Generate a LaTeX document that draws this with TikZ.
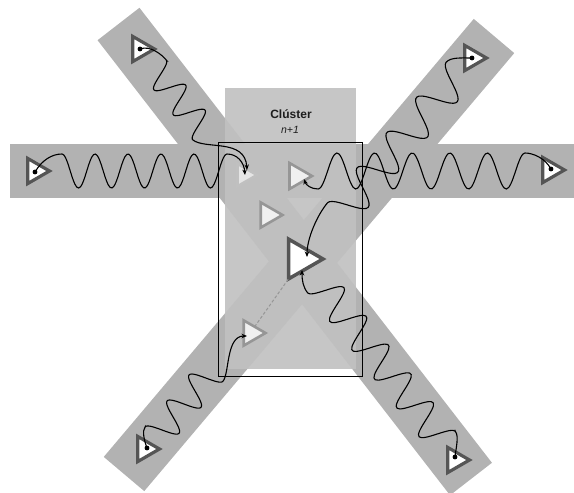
\documentclass[tikz,border=0pt]{standalone}
\usepackage{fontspec}
\newfontfamily\arialf{Liberation Sans}
\usetikzlibrary{shapes.geometric,arrows.meta}
\definecolor{bandgray}{RGB}{178,178,178}
\definecolor{boxgray}{RGB}{193,193,193}
\definecolor{tridark}{RGB}{85,85,85}
\definecolor{trimid}{RGB}{150,150,150}
\definecolor{trilight}{RGB}{192,192,192}
\definecolor{textdark}{RGB}{30,30,30}
\begin{document}
\begin{tikzpicture}[x=1pt,y=-1pt,
  band/.style={line width=53pt, draw=bandgray},
  tri/.style={regular polygon, regular polygon sides=3, rotate=-90, inner sep=0pt, outer sep=0pt},
  outertri/.style={tri, draw=tridark, fill=white, line width=3.2pt, minimum size=29pt},
  innertri/.style={tri, draw=trimid, fill=white!94!black, line width=2.6pt, minimum size=29pt},
  dotn/.style={circle, fill=black, inner sep=0pt, minimum size=4.6pt},
  snk/.style={draw=black, line width=1.1pt, -{Stealth[length=5.5pt,width=4.5pt]}},
  pl/.style={smooth, samples=90, variable=\t}
]
\useasboundingbox (0,0) rectangle (574,493);
% bands
\draw[band, line width=54pt] (10,171) -- (574,171);
\draw[band] (118.5,24) -- (471,479);
\draw[band] (494,36) -- (124,474);
% cluster box
\fill[boxgray, opacity=0.92] (225,88) rectangle (356,369);
\draw[black, line width=1pt] (218.5,142.5) rectangle (362,376);
% labels
\node[text=textdark] (title) at (291,114) {\arialf\bfseries\fontsize{12}{14}\selectfont Clúster};
\node[text=textdark] (sub) at (290,130) {\arialf\itshape\fontsize{10.5}{12}\selectfont n+1};
% inner triangles
\node[innertri, draw=trilight, fill=white!90!black, minimum size=26pt] (T1) at (244,175) {};
\node[innertri, minimum size=30pt] (T2) at (297,176) {};
\node[innertri] (T3) at (268,215) {};
\node[tri, draw=tridark, fill=white, line width=3.5pt, minimum size=46pt] (T4) at (300,259) {};
\node[innertri] (T5) at (251,333) {};
\draw[trimid, line width=1pt, dash pattern=on 3pt off 2pt] (T5.side 1) -- (T4.corner 3);
% outer triangles
\node[outertri] (L) at (35,171) {};
\node[outertri] (R) at (550,170) {};
\node[outertri] (UL) at (140,49) {};
\node[outertri] (UR) at (472,58) {};
\node[outertri] (LL) at (145,449) {};
\node[outertri] (LR) at (455,460) {};
\node[dotn] (Ld) at (35,172) {};
\node[dotn] (Rd) at (551,169) {};
\node[dotn] (ULd) at (140,49) {};
\node[dotn] (URd) at (472,58) {};
\node[dotn] (LLd) at (147,448) {};
\node[dotn] (LRd) at (455,457) {};
% waves
\draw[snk] (Ld.center) .. controls (42,160) and (52,154) .. (62,154)
  -- plot[pl, domain=0:165] ({62+\t},{171-17*cos(\t*10.909)})
  .. controls (237,154) and (244,162) .. (245,175);
\draw[snk] (ULd.center) .. controls (150,45) and (162.1,54.7) .. (166.4,60.2)
  -- plot[pl, domain=0:79] ({140+(25+\t)*0.612+14*cos(\t*11.392)*0.790},{49+(25+\t)*0.790-14*cos(\t*11.392)*0.612})
  .. controls (205,150) and (245,138) .. (247,170);
\draw[snk] (Rd.center) .. controls (545,158) and (533,153) .. (525,153)
  -- plot[pl, domain=0:206.8] ({525-\t},{171-18*cos(\t*9.574)})
  .. controls (311,189) and (306,185) .. (304,179);
\draw[snk] (URd.center) .. controls (462,58) and (450.6,57) .. (446.1,62.3)
  -- plot[pl, domain=0:184] ({472-(20+\t)*0.645-17*cos(\t*7.826)*0.764},{58+(20+\t)*0.764-17*cos(\t*7.826)*0.645})
  .. controls (317.7,214.4) and (307,238) .. (307,257);
\draw[snk] (LRd.center) .. controls (456,448) and (459.1,436.1) .. (455.4,431.4)
  -- plot[pl, domain=0:200.2] ({455-(20+\t)*0.612+16*cos(\t*9.89)*0.790},{457-(20+\t)*0.790-16*cos(\t*9.89)*0.612})
  .. controls (302.9,286.7) and (302,280) .. (302,270);
\draw[snk] (LLd.center) .. controls (144,440) and (142,430.6) .. (145.2,426.8)
  -- plot[pl, domain=0:85] ({147+(15+\t)*0.645-15*cos(\t*10.588)*0.764},{448-(15+\t)*0.764-15*cos(\t*10.588)*0.645})
  .. controls (229.5,373.7) and (226,336) .. (247,336);
% dots on top
\fill (Ld) circle (2.3pt) (Rd) circle (2.3pt) (ULd) circle (2.3pt) (URd) circle (2.3pt) (LLd) circle (2.3pt) (LRd) circle (2.3pt);
\end{tikzpicture}
\end{document}
